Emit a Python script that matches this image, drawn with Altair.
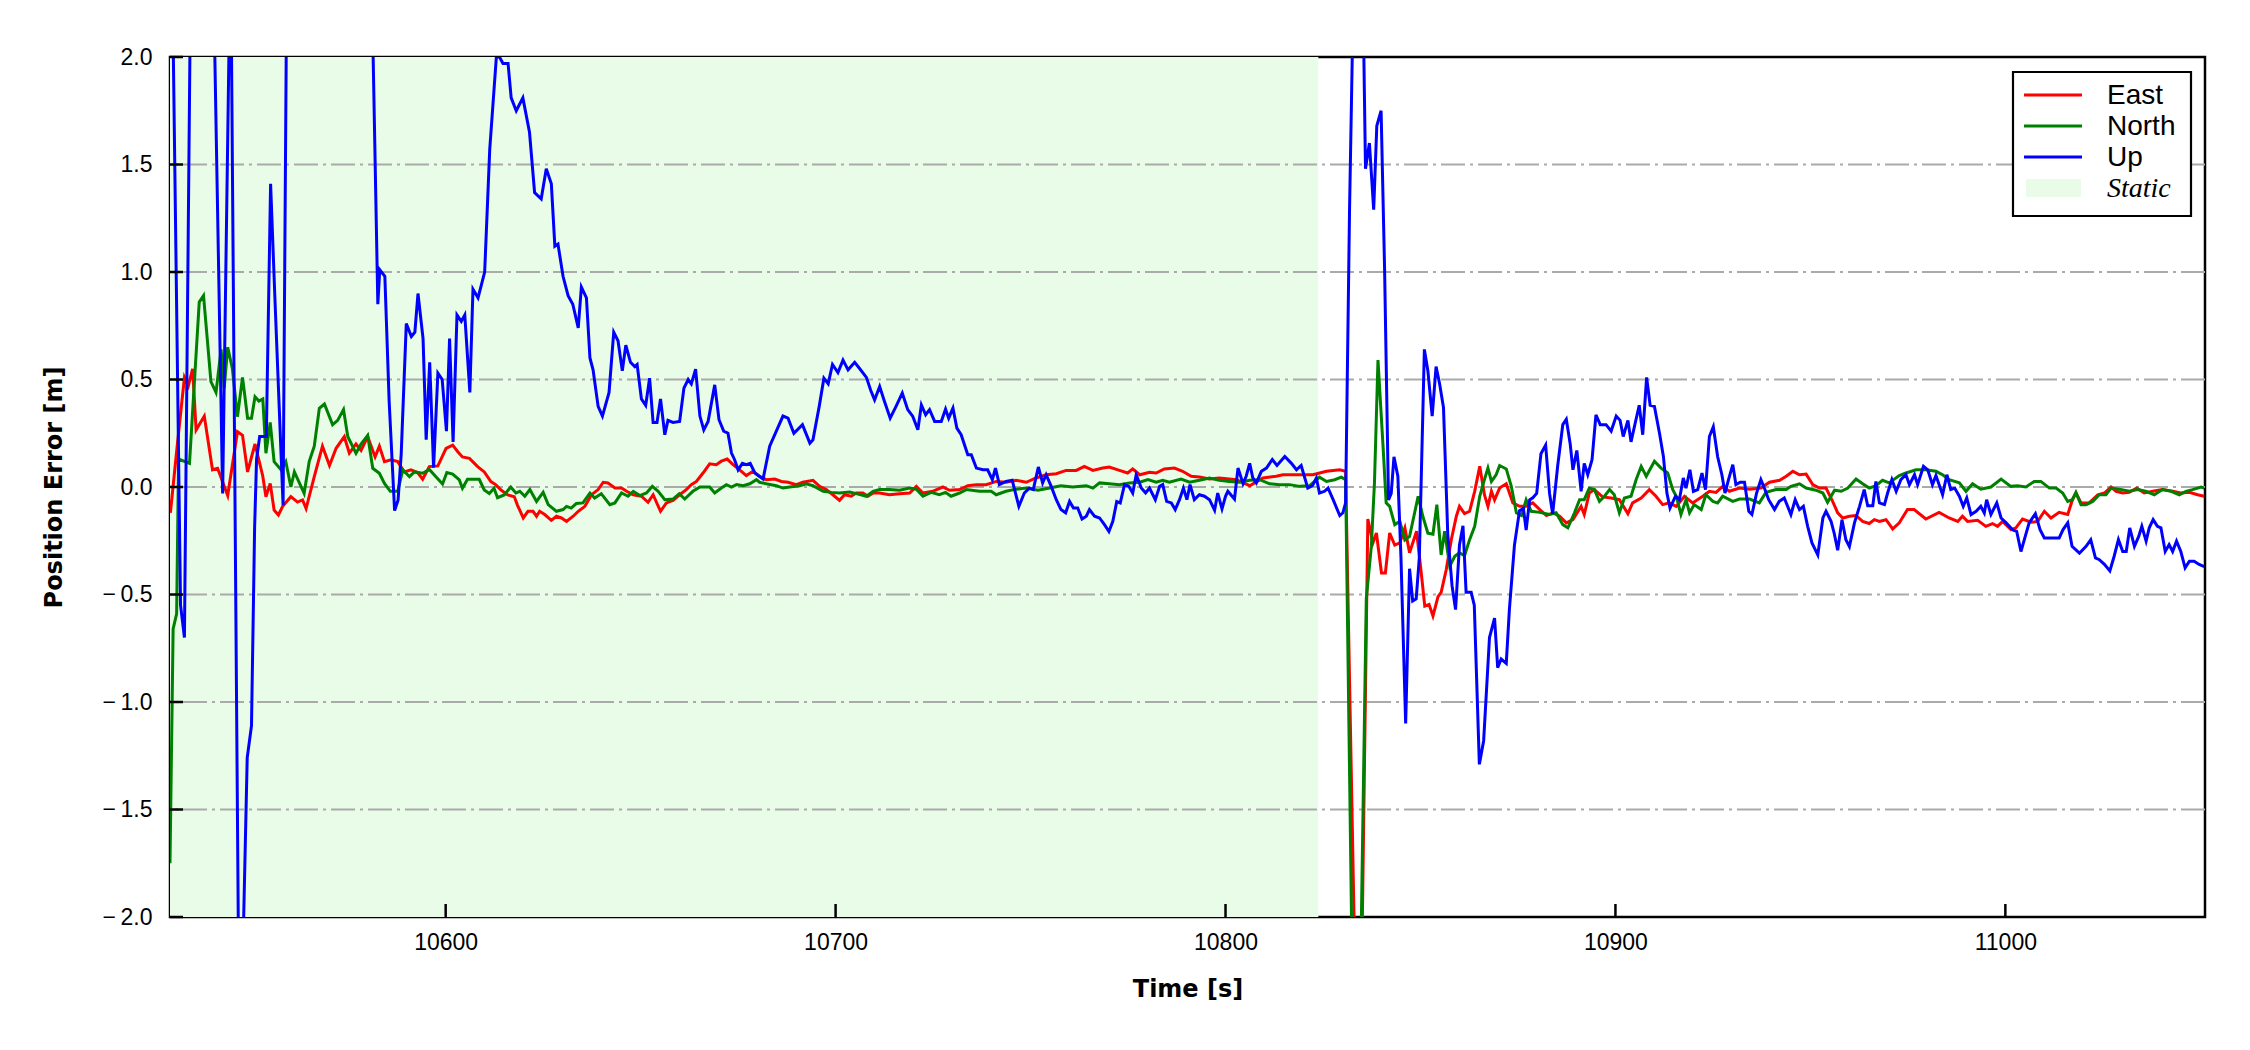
import altair as alt
import pandas as pd

# ---------------- data ----------------
series_names = ["East", "North", "Up"]
series_colors = ["#ff0000", "#008000", "#0000ff"]

east = [(10529.4,-0.12),(10531.2,0.2),(10533.0,0.51),(10534.0,0.47),(10535.1,0.55),(10536.0,0.265),(10538.1,0.33),(10540.2,0.08),(10541.5,0.087),(10544.1,-0.04),(10546.6,0.257),(10547.9,0.24),(10549.2,0.07),(10551.1,0.20),(10553.1,0.05),(10553.9,-0.045),(10555.0,0.017),(10556.0,-0.107),(10557.1,-0.13),(10558.2,-0.09),(10560.3,-0.045),(10562.0,-0.07),(10563.3,-0.06),(10564.2,-0.10),(10566.3,0.048),(10568.4,0.19),(10570.2,0.10),(10571.9,0.18),(10574.0,0.234),(10575.3,0.157),(10577.0,0.20),(10578.3,0.17),(10580.0,0.234),(10581.9,0.14),(10583.0,0.19),(10584.3,0.118),(10586.0,0.126),(10587.7,0.118),(10589.4,0.07),(10591.1,0.08),(10592.8,0.067),(10594.1,0.036),(10595.8,0.095),(10598.0,0.098),(10600.1,0.18),(10601.8,0.195),(10603.1,0.164),(10604.3,0.14),(10606.1,0.133),(10608.2,0.095),(10609.9,0.07),(10611.6,0.025),(10612.9,0.01),(10614.2,-0.014),(10615.9,-0.037),(10617.6,-0.045),(10618.4,-0.084),(10619.9,-0.144),(10621.1,-0.113),(10622.4,-0.113),(10623.3,-0.136),(10624.1,-0.113),(10625.4,-0.128),(10627.1,-0.155),(10628.4,-0.136),(10629.7,-0.144),(10631.0,-0.16),(10632.7,-0.136),(10634.0,-0.113),(10635.7,-0.09),(10637.4,-0.036),(10639.1,-0.012),(10640.4,0.022),(10641.6,0.019),(10643.4,-0.005),(10645.1,-0.005),(10646.4,-0.02),(10648.1,-0.036),(10650.2,-0.043),(10651.9,-0.071),(10653.2,-0.036),(10655.1,-0.113),(10656.6,-0.074),(10658.3,-0.062),(10660.0,-0.036),(10661.7,-0.012),(10663.0,0.011),(10664.3,0.026),(10666.0,0.065),(10667.7,0.108),(10669.4,0.104),(10670.7,0.12),(10672.2,0.13),(10673.7,0.104),(10675.4,0.08),(10677.1,0.053),(10678.8,0.073),(10680.5,0.05),(10682.2,0.034),(10684.4,0.037),(10686.1,0.026),(10687.8,0.022),(10689.9,0.011),(10691.6,0.022),(10694.2,0.031),(10695.9,0.003),(10697.6,-0.012),(10699.3,-0.036),(10701.0,-0.062),(10702.3,-0.036),(10704.0,-0.043),(10705.3,-0.028),(10707.0,-0.028),(10708.3,-0.043),(10709.6,-0.028),(10711.3,-0.028),(10713.8,-0.036),(10716.4,-0.031),(10719.0,-0.028),(10720.7,0.003),(10722.4,-0.028),(10724.9,-0.02),(10727.5,0.0),(10729.2,-0.015),(10731.8,-0.012),(10733.9,0.006),(10736.1,0.011),(10738.6,0.011),(10741.2,0.026),(10743.7,0.022),(10746.3,0.031),(10748.9,0.022),(10751.4,0.042),(10754.0,0.057),(10756.6,0.062),(10759.1,0.077),(10761.7,0.077),(10763.8,0.096),(10766.0,0.077),(10768.5,0.088),(10770.2,0.093),(10772.8,0.077),(10774.9,0.065),(10776.2,0.084),(10778.0,0.057),(10780.5,0.068),(10782.2,0.065),(10784.3,0.084),(10786.9,0.088),(10789.0,0.073),(10791.2,0.05),(10793.3,0.046),(10795.9,0.037),(10798.4,0.042),(10802.8,0.034),(10806.2,0.006),(10809.6,0.042),(10813.0,0.05),(10814.7,0.057),(10819.0,0.057),(10822.4,0.057),(10825.9,0.073),(10829.3,0.08),(10830.8,0.073),(10834.2,-3.2),(10836.5,-0.149),(10837.8,-0.26),(10838.7,-0.214),(10840.0,-0.40),(10841.0,-0.40),(10842.1,-0.214),(10843.4,-0.27),(10844.7,-0.26),(10846.0,-0.19),(10847.2,-0.306),(10849.0,-0.206),(10850.2,-0.40),(10851.1,-0.554),(10852.2,-0.546),(10853.2,-0.60),(10854.5,-0.51),(10855.3,-0.49),(10856.6,-0.385),(10857.9,-0.245),(10859.2,-0.136),(10860.0,-0.09),(10861.3,-0.124),(10862.6,-0.113),(10863.9,-0.02),(10865.2,0.096),(10866.4,-0.036),(10867.3,-0.09),(10868.2,-0.02),(10869.0,-0.06),(10870.3,-0.005),(10872.0,0.015),(10873.7,-0.074),(10875.4,-0.09),(10877.1,-0.09),(10878.8,-0.074),(10880.6,-0.105),(10882.3,-0.133),(10884.0,-0.12),(10885.7,-0.136),(10887.4,-0.167),(10889.1,-0.152),(10891.2,-0.09),(10892.0,-0.128),(10893.3,-0.028),(10894.6,-0.012),(10896.7,-0.046),(10898.9,-0.051),(10901.0,-0.059),(10903.2,-0.124),(10904.4,-0.074),(10906.6,-0.051),(10908.7,-0.012),(10910.4,-0.043),(10912.1,-0.082),(10913.8,-0.074),(10915.6,-0.09),(10917.7,-0.043),(10919.8,-0.074),(10922.4,-0.043),(10924.1,-0.02),(10925.8,-0.025),(10927.5,0.003),(10929.2,-0.02),(10931.8,-0.005),(10934.4,-0.01),(10937.3,-0.005),(10939.5,0.022),(10942.1,0.031),(10943.8,0.05),(10945.5,0.073),(10947.2,0.057),(10948.9,0.06),(10950.6,0.011),(10952.3,-0.005),(10954.0,-0.005),(10955.7,-0.067),(10957.0,-0.12),(10958.3,-0.144),(10960.0,-0.136),(10961.7,-0.133),(10963.4,-0.16),(10965.1,-0.17),(10966.4,-0.152),(10967.7,-0.16),(10969.4,-0.152),(10971.1,-0.195),(10972.8,-0.167),(10974.9,-0.105),(10976.6,-0.105),(10979.6,-0.149),(10983.0,-0.118),(10985.6,-0.144),(10987.8,-0.16),(10989.0,-0.136),(10990.3,-0.16),(10992.9,-0.155),(10995.0,-0.183),(10996.7,-0.17),(10998.0,-0.183),(10999.3,-0.16),(11001.4,-0.198),(11002.7,-0.19),(11004.4,-0.149),(11006.6,-0.164),(11008.3,-0.16),(11010.0,-0.113),(11011.7,-0.144),(11013.8,-0.118),(11016.0,-0.128),(11017.2,-0.059),(11018.1,-0.028),(11019.4,-0.074),(11021.5,-0.074),(11023.7,-0.036),(11025.4,-0.028),(11027.1,0.0),(11028.4,-0.02),(11030.1,-0.028),(11031.8,-0.025),(11033.7,-0.005),(11035.6,-0.028),(11037.8,-0.02),(11040.3,-0.012),(11042.9,-0.02),(11045.0,-0.028),(11047.2,-0.025),(11049.3,-0.036),(11051.0,-0.043)]

north = [(10529.3,-1.75),(10530.1,-0.66),(10531.0,-0.59),(10531.5,0.13),(10534.3,0.11),(10536.8,0.86),(10537.9,0.89),(10539.8,0.49),(10541.1,0.44),(10542.4,0.64),(10543.2,0.46),(10544.1,0.65),(10545.3,0.55),(10546.6,0.327),(10547.9,0.51),(10549.2,0.32),(10550.2,0.32),(10551.1,0.42),(10552.1,0.40),(10553.1,0.41),(10553.9,0.157),(10555.0,0.30),(10556.0,0.118),(10557.8,0.08),(10559.0,0.118),(10560.3,0.0),(10561.2,0.07),(10563.7,-0.03),(10565.0,0.118),(10566.3,0.19),(10567.6,0.366),(10568.9,0.386),(10571.0,0.29),(10572.3,0.31),(10573.8,0.36),(10574.9,0.234),(10577.0,0.157),(10578.3,0.2),(10580.0,0.24),(10581.3,0.087),(10583.0,0.064),(10584.3,0.017),(10585.8,-0.02),(10587.7,-0.02),(10589.0,0.08),(10590.7,0.048),(10592.0,0.07),(10594.1,0.064),(10595.8,0.082),(10597.5,0.048),(10599.2,0.014),(10600.3,0.067),(10601.8,0.06),(10603.5,0.033),(10604.3,-0.006),(10605.6,0.036),(10608.6,0.036),(10609.9,-0.014),(10611.2,-0.03),(10612.4,-0.006),(10613.3,-0.05),(10615.0,-0.037),(10616.7,0.0),(10618.0,-0.028),(10619.0,-0.02),(10620.3,-0.043),(10621.6,-0.012),(10623.3,-0.067),(10625.0,-0.025),(10626.3,-0.082),(10628.4,-0.113),(10630.1,-0.105),(10631.0,-0.09),(10632.2,-0.098),(10633.5,-0.077),(10635.2,-0.074),(10637.0,-0.028),(10638.2,-0.051),(10639.9,-0.031),(10642.1,-0.082),(10643.4,-0.074),(10645.1,-0.028),(10646.8,-0.043),(10648.1,-0.02),(10649.8,-0.04),(10651.5,-0.028),(10653.0,0.003),(10654.5,-0.02),(10656.2,-0.059),(10658.3,-0.056),(10659.9,-0.031),(10661.3,-0.056),(10663.4,-0.02),(10665.2,0.0),(10667.7,0.0),(10669.0,-0.028),(10670.7,-0.005),(10672.0,0.011),(10673.3,0.0),(10674.6,0.011),(10676.3,0.006),(10678.0,0.015),(10679.7,0.034),(10680.5,0.022),(10682.2,0.015),(10684.8,0.006),(10686.5,-0.005),(10688.2,0.0),(10690.8,0.006),(10692.5,0.015),(10694.2,0.006),(10696.8,-0.02),(10698.9,-0.025),(10701.0,-0.028),(10703.6,-0.023),(10705.3,-0.031),(10707.9,-0.043),(10709.6,-0.02),(10711.3,-0.012),(10713.8,-0.012),(10716.4,-0.015),(10719.0,-0.005),(10720.7,-0.01),(10722.4,-0.043),(10724.5,-0.025),(10726.6,-0.036),(10728.2,-0.025),(10729.6,-0.043),(10731.8,-0.028),(10733.5,-0.012),(10736.9,-0.02),(10739.9,-0.02),(10741.2,-0.036),(10743.7,-0.02),(10746.3,-0.01),(10748.9,-0.005),(10751.9,-0.015),(10754.9,-0.005),(10757.8,0.006),(10760.8,0.0),(10764.3,0.006),(10766.0,-0.005),(10767.7,0.019),(10770.2,0.015),(10772.8,0.011),(10775.4,0.019),(10778.0,0.022),(10780.1,0.034),(10782.2,0.022),(10783.9,0.031),(10785.6,0.022),(10788.6,0.037),(10790.8,0.022),(10793.3,0.031),(10795.9,0.042),(10798.4,0.031),(10801.0,0.026),(10803.6,0.022),(10806.2,0.031),(10808.8,0.034),(10811.3,0.015),(10813.9,0.011),(10816.4,0.011),(10819.0,0.003),(10821.6,0.006),(10824.1,0.046),(10825.9,0.026),(10828.0,0.034),(10829.7,0.046),(10830.8,0.034),(10833.5,-3.6),(10836.1,-0.52),(10837.4,-0.275),(10838.2,0.02),(10839.1,0.59),(10840.4,0.19),(10841.2,-0.074),(10842.1,-0.09),(10843.4,-0.175),(10844.7,-0.16),(10846.0,-0.246),(10847.2,-0.23),(10848.5,-0.12),(10849.4,-0.043),(10850.6,-0.136),(10851.9,-0.215),(10853.2,-0.22),(10854.2,-0.082),(10855.3,-0.316),(10856.2,-0.206),(10857.5,-0.368),(10858.8,-0.322),(10860.0,-0.306),(10861.3,-0.32),(10862.6,-0.245),(10863.9,-0.183),(10865.2,-0.043),(10866.4,0.034),(10867.3,0.088),(10868.2,0.026),(10869.4,0.057),(10870.3,0.1),(10872.0,0.084),(10873.3,0.003),(10874.6,-0.12),(10875.9,-0.133),(10877.1,-0.06),(10878.4,-0.113),(10880.6,-0.118),(10883.1,-0.128),(10884.8,-0.12),(10886.5,-0.175),(10887.8,-0.19),(10889.5,-0.12),(10890.8,-0.059),(10892.0,-0.059),(10893.3,-0.005),(10894.6,-0.012),(10895.9,-0.067),(10897.2,-0.043),(10898.5,-0.012),(10899.7,-0.036),(10901.0,-0.12),(10902.3,-0.051),(10904.0,-0.043),(10905.3,0.034),(10906.6,0.096),(10907.9,0.05),(10910.0,0.12),(10911.7,0.088),(10913.4,0.065),(10914.7,-0.012),(10915.6,-0.043),(10916.8,-0.128),(10918.1,-0.059),(10919.0,-0.12),(10920.2,-0.082),(10922.0,-0.105),(10923.2,-0.036),(10925.0,-0.067),(10926.2,-0.074),(10927.5,-0.043),(10930.1,-0.067),(10931.8,-0.056),(10934.4,-0.056),(10936.9,-0.074),(10938.6,-0.025),(10941.2,-0.012),(10943.8,-0.012),(10945.0,0.003),(10947.2,0.015),(10948.9,-0.005),(10951.4,-0.015),(10953.2,-0.028),(10954.4,-0.071),(10956.2,-0.015),(10957.9,-0.02),(10959.6,-0.005),(10961.7,0.037),(10963.4,0.015),(10965.1,-0.005),(10966.8,0.006),(10968.5,0.031),(10970.2,0.019),(10972.8,0.053),(10974.5,0.065),(10977.1,0.08),(10979.6,0.08),(10982.2,0.073),(10983.9,0.057),(10985.6,0.034),(10988.2,0.019),(10989.9,-0.02),(10991.6,0.015),(10993.7,-0.01),(10996.3,0.0),(10998.9,0.037),(11001.4,0.003),(11003.1,0.006),(11005.3,0.0),(11007.4,0.026),(11009.1,0.026),(11011.3,-0.005),(11013.0,-0.005),(11014.7,-0.028),(11016.0,-0.067),(11017.2,-0.059),(11018.1,-0.025),(11019.4,-0.082),(11020.7,-0.082),(11022.4,-0.067),(11024.1,-0.036),(11025.8,-0.036),(11027.1,-0.005),(11029.2,-0.01),(11031.8,-0.02),(11033.9,-0.012),(11036.0,-0.02),(11038.2,-0.036),(11040.3,-0.012),(11042.5,-0.02),(11044.6,-0.036),(11046.3,-0.02),(11048.0,-0.012),(11050.2,0.0),(11051.0,-0.005)]

up = [(10529.3,3.2),(10532.0,-0.55),(10533.0,-0.70),(10534.4,2.0),(10537.5,3.6),(10540.8,2.0),(10542.8,-0.03),(10544.4,2.0),(10545.0,2.2),(10546.8,-2.0),(10547.5,-2.6),(10548.2,-2.0),(10549.1,-1.26),(10550.2,-1.11),(10551.0,-0.19),(10551.5,0.13),(10552.3,0.235),(10554.0,0.235),(10555.1,1.41),(10556.2,0.88),(10558.3,-0.085),(10559.1,2.0),(10565.0,3.8),(10575.0,3.5),(10581.4,2.0),(10582.6,0.85),(10583.1,1.01),(10584.4,0.98),(10585.5,0.4),(10586.9,-0.11),(10587.8,-0.06),(10588.6,0.155),(10589.9,0.76),(10591.2,0.70),(10592.1,0.72),(10592.9,0.9),(10594.2,0.69),(10595.0,0.22),(10595.9,0.58),(10596.9,0.09),(10598.0,0.53),(10599.1,0.5),(10600.2,0.26),(10601.0,0.69),(10601.9,0.21),(10602.9,0.8),(10604.0,0.77),(10604.9,0.8),(10606.2,0.44),(10607.0,0.92),(10608.3,0.88),(10610.0,1.0),(10611.3,1.57),(10613.0,2.0),(10613.8,2.0),(10614.7,1.97),(10616.0,1.97),(10616.8,1.81),(10618.1,1.75),(10619.8,1.81),(10621.5,1.65),(10622.8,1.37),(10624.5,1.34),(10625.8,1.48),(10627.1,1.41),(10628.0,1.12),(10628.8,1.13),(10630.1,0.98),(10631.4,0.89),(10632.6,0.85),(10634.0,0.74),(10634.8,0.93),(10636.1,0.88),(10637.0,0.6),(10637.8,0.545),(10639.1,0.375),(10640.2,0.33),(10641.9,0.44),(10643.1,0.72),(10644.2,0.68),(10645.3,0.54),(10646.2,0.66),(10647.4,0.58),(10648.5,0.56),(10649.1,0.57),(10650.2,0.41),(10651.3,0.38),(10652.3,0.506),(10653.2,0.30),(10654.2,0.30),(10655.1,0.41),(10656.2,0.243),(10657.0,0.31),(10658.3,0.30),(10660.0,0.305),(10661.1,0.46),(10662.2,0.50),(10663.0,0.48),(10664.1,0.548),(10665.2,0.33),(10666.2,0.266),(10667.3,0.305),(10669.0,0.475),(10670.1,0.313),(10671.3,0.26),(10672.4,0.25),(10673.3,0.158),(10674.1,0.127),(10675.0,0.08),(10676.1,0.11),(10677.1,0.104),(10678.1,0.11),(10679.3,0.065),(10680.4,0.05),(10681.4,0.037),(10683.1,0.19),(10684.8,0.26),(10686.5,0.33),(10687.8,0.32),(10689.3,0.25),(10691.5,0.29),(10693.4,0.204),(10694.2,0.22),(10695.8,0.375),(10697.0,0.506),(10698.1,0.48),(10699.2,0.57),(10700.6,0.532),(10701.9,0.59),(10703.2,0.545),(10704.9,0.58),(10706.2,0.55),(10707.9,0.51),(10709.0,0.45),(10710.0,0.405),(10711.3,0.467),(10712.5,0.40),(10714.0,0.32),(10715.5,0.375),(10717.1,0.437),(10718.5,0.36),(10719.8,0.328),(10721.1,0.266),(10722.0,0.382),(10723.1,0.336),(10724.1,0.36),(10725.4,0.305),(10727.1,0.305),(10728.2,0.362),(10729.0,0.32),(10730.1,0.367),(10731.1,0.274),(10732.2,0.243),(10733.9,0.15),(10734.8,0.15),(10736.1,0.088),(10737.8,0.08),(10739.0,0.08),(10740.2,0.034),(10741.0,0.088),(10742.0,0.011),(10743.7,0.026),(10745.3,0.031),(10747.0,-0.09),(10748.4,-0.028),(10749.7,-0.005),(10750.7,-0.012),(10752.0,0.093),(10753.1,0.019),(10754.0,0.057),(10755.3,0.003),(10756.6,-0.059),(10757.8,-0.105),(10759.0,-0.12),(10760.0,-0.067),(10761.0,-0.098),(10762.1,-0.098),(10763.2,-0.149),(10764.3,-0.136),(10765.1,-0.105),(10766.4,-0.136),(10767.7,-0.144),(10769.0,-0.176),(10770.1,-0.207),(10771.1,-0.16),(10772.1,-0.068),(10773.0,-0.074),(10774.1,0.011),(10775.2,0.003),(10776.2,-0.028),(10777.1,0.057),(10778.4,-0.005),(10779.5,-0.028),(10780.5,-0.005),(10782.0,-0.059),(10783.1,0.003),(10783.9,0.011),(10784.9,-0.067),(10786.1,-0.074),(10787.1,-0.105),(10788.2,-0.059),(10789.2,-0.005),(10790.1,-0.059),(10790.9,0.011),(10792.0,-0.059),(10793.3,-0.036),(10794.6,-0.043),(10795.9,-0.059),(10797.2,-0.108),(10798.0,-0.028),(10799.1,-0.102),(10800.0,-0.043),(10800.6,-0.02),(10802.3,-0.056),(10803.2,0.088),(10804.5,0.015),(10805.3,0.05),(10806.2,0.11),(10807.0,0.042),(10807.9,0.019),(10809.2,0.073),(10810.5,0.088),(10812.0,0.128),(10813.2,0.1),(10815.2,0.142),(10816.9,0.11),(10818.2,0.08),(10819.4,0.1),(10821.1,-0.005),(10822.3,0.006),(10823.3,0.042),(10824.1,-0.028),(10825.4,-0.02),(10826.3,-0.005),(10827.6,-0.059),(10829.3,-0.133),(10830.1,-0.12),(10830.8,-0.074),(10831.8,1.28),(10832.6,2.1),(10834.0,2.9),(10835.4,2.1),(10835.9,1.48),(10836.9,1.6),(10838.0,1.29),(10838.8,1.68),(10839.9,1.75),(10840.8,1.01),(10841.8,-0.06),(10842.5,-0.03),(10843.2,0.14),(10844.2,0.05),(10845.0,-0.33),(10846.2,-1.1),(10847.2,-0.38),(10848.0,-0.53),(10848.9,-0.52),(10849.7,-0.33),(10851.0,0.64),(10851.9,0.54),(10853.0,0.33),(10854.0,0.56),(10854.9,0.48),(10855.9,0.37),(10857.0,-0.22),(10858.1,-0.46),(10859.0,-0.57),(10860.0,-0.27),(10860.9,-0.18),(10861.7,-0.49),(10863.0,-0.49),(10863.8,-0.55),(10865.1,-1.29),(10866.2,-1.18),(10867.7,-0.70),(10869.0,-0.61),(10869.8,-0.84),(10870.7,-0.80),(10872.0,-0.82),(10872.8,-0.57),(10874.1,-0.27),(10875.4,-0.11),(10876.4,-0.10),(10877.1,-0.2),(10878.0,-0.06),(10878.8,-0.05),(10879.8,-0.03),(10880.9,0.155),(10882.1,0.195),(10883.1,-0.03),(10883.9,-0.125),(10885.2,0.1),(10886.5,0.29),(10887.4,0.315),(10888.4,0.2),(10889.1,0.08),(10890.1,0.17),(10891.2,-0.02),(10892.0,0.11),(10892.9,0.057),(10894.0,0.127),(10895.0,0.336),(10896.1,0.29),(10897.6,0.29),(10898.9,0.26),(10900.2,0.33),(10901.2,0.31),(10902.0,0.235),(10903.2,0.31),(10904.0,0.21),(10905.1,0.3),(10906.1,0.38),(10907.0,0.243),(10908.0,0.51),(10908.9,0.38),(10910.0,0.375),(10911.3,0.25),(10912.3,0.142),(10913.2,-0.028),(10914.0,-0.098),(10915.4,-0.043),(10916.4,-0.059),(10917.4,0.042),(10918.1,-0.005),(10919.1,0.08),(10920.0,-0.02),(10921.1,-0.012),(10922.2,0.065),(10923.1,-0.012),(10924.1,0.235),(10925.1,0.28),(10926.2,0.142),(10927.3,0.057),(10928.1,-0.028),(10929.0,0.034),(10930.1,0.104),(10930.9,0.011),(10932.0,0.022),(10933.1,0.022),(10934.2,-0.113),(10935.0,-0.128),(10936.2,-0.028),(10937.3,0.034),(10938.2,-0.005),(10939.3,-0.059),(10940.8,-0.105),(10942.0,-0.067),(10943.3,-0.051),(10945.0,-0.128),(10946.1,-0.059),(10947.2,-0.105),(10948.2,-0.09),(10949.3,-0.183),(10950.4,-0.26),(10951.9,-0.316),(10953.2,-0.144),(10954.0,-0.113),(10955.3,-0.16),(10956.1,-0.215),(10957.0,-0.294),(10958.1,-0.152),(10959.1,-0.245),(10960.0,-0.277),(10961.3,-0.167),(10962.6,-0.09),(10963.8,-0.012),(10964.7,-0.087),(10966.0,-0.087),(10966.8,0.026),(10967.7,-0.074),(10969.0,-0.082),(10969.8,-0.028),(10970.9,0.034),(10972.0,-0.02),(10973.2,0.034),(10974.5,0.057),(10975.4,0.011),(10976.7,0.057),(10977.5,0.011),(10979.0,0.096),(10980.1,0.08),(10981.3,0.011),(10982.2,0.053),(10983.9,-0.036),(10985.0,0.057),(10986.0,-0.012),(10987.0,-0.005),(10988.2,-0.043),(10989.2,-0.09),(10990.1,-0.051),(10991.2,-0.128),(10992.5,-0.113),(10993.7,-0.09),(10994.6,-0.121),(10995.2,-0.059),(10996.3,-0.128),(10997.8,-0.074),(10998.9,-0.144),(11000.2,-0.167),(11001.9,-0.2),(11002.9,-0.206),(11004.0,-0.3),(11005.1,-0.23),(11006.1,-0.167),(11007.7,-0.124),(11008.9,-0.198),(11010.0,-0.237),(11011.7,-0.237),(11013.8,-0.237),(11014.8,-0.198),(11016.0,-0.167),(11017.1,-0.276),(11019.0,-0.308),(11020.7,-0.276),(11021.9,-0.245),(11023.1,-0.33),(11024.1,-0.338),(11025.4,-0.36),(11026.8,-0.39),(11027.9,-0.322),(11029.0,-0.245),(11030.1,-0.3),(11031.0,-0.3),(11031.9,-0.19),(11033.1,-0.276),(11034.2,-0.23),(11035.0,-0.183),(11036.1,-0.252),(11036.9,-0.19),(11037.9,-0.152),(11039.0,-0.183),(11039.9,-0.19),(11041.0,-0.3),(11042.0,-0.268),(11042.9,-0.3),(11043.9,-0.252),(11045.0,-0.3),(11046.1,-0.376),(11047.2,-0.345),(11048.4,-0.345),(11049.7,-0.36),(11051.0,-0.37)]

static_span = [10529.3, 10823.8]
x_domain = [10529.3, 11051.2]
y_domain = [-2.0, 2.0]
x_ticks = [10600, 10700, 10800, 10900, 11000]
y_ticks = [-2.0, -1.5, -1.0, -0.5, 0.0, 0.5, 1.0, 1.5, 2.0]
grid_vals = [-1.5, -1.0, -0.5, 0.0, 0.5, 1.0, 1.5]
legend_labels = ["East", "North", "Up", "Static"]

# ---------------- tables ----------------
rows = []
for name, pts in zip(series_names, [east, north, up]):
    for i, (t, v) in enumerate(pts):
        rows.append({"t": t, "v": v, "series": name, "order": i})
lines_df = pd.DataFrame(rows)

W, H = 2035, 860
FONT = "Liberation Sans"
TITLE_FONT = "DejaVu Sans"
LW = 3.0

xscale = alt.Scale(domain=x_domain, nice=False, zero=False)
yscale = alt.Scale(domain=y_domain, nice=False, zero=False)
xaxis = alt.Axis(values=x_ticks, format="d", title="Time [s]", labelPadding=14,
                 titleY=72, titleBaseline="middle")
yaxis = alt.Axis(values=y_ticks, format=".1f", title="Position Error [m]", labelPadding=18,
                 labelExpr="replace(datum.label, '\u2212', '\u2212\u2009')",
                 titleX=-116, titleY=H / 2, titleAngle=270, titleBaseline="middle",
                 titleAlign="center")

X = alt.X("t:Q", scale=xscale, axis=xaxis)
Y = alt.Y("v:Q", scale=yscale, axis=yaxis)

static_layer = alt.Chart(pd.DataFrame({"t": [static_span[0]], "t2": [static_span[1]]})).mark_rect(
    color="#e8fce8"
).encode(x=X, x2="t2:Q", y=alt.value(0), y2=alt.value(H))

grid_layer = alt.Chart(pd.DataFrame({"v": grid_vals})).mark_rule(
    color="#aaaaaa", strokeWidth=2.2, strokeDash=[24, 5, 3, 5]
).encode(y=Y)

lines_layer = alt.Chart(lines_df).mark_line(strokeWidth=LW, clip=True).encode(
    x=X, y=Y,
    color=alt.Color("series:N", scale=alt.Scale(domain=series_names, range=series_colors), legend=None),
    order="order:Q",
)

xtick_layer = alt.Chart(pd.DataFrame({"t": x_ticks})).mark_rule(color="black", strokeWidth=2.5).encode(
    x=X, y=alt.value(H), y2=alt.value(H - 13)
)
ytick_layer = alt.Chart(pd.DataFrame({"v": y_ticks})).mark_rule(color="black", strokeWidth=2.5).encode(
    y=Y, x=alt.value(0), x2=alt.value(13)
)

# ---------------- legend (drawn by hand) ----------------
LX0, LX1, LY0, LY1 = 1843, 2021, 15, 159
one = pd.DataFrame({"a": [0]})
legend_layers = [
    alt.Chart(one).mark_rect(fill="white", stroke="black", strokeWidth=2.2).encode(
        x=alt.value(LX0), x2=alt.value(LX1), y=alt.value(LY0), y2=alt.value(LY1))
]
row_y = [38, 69, 100, 131]
for lab, col, ry in zip(series_names, series_colors, row_y[:3]):
    legend_layers.append(alt.Chart(one).mark_rule(color=col, strokeWidth=LW).encode(
        x=alt.value(1854), x2=alt.value(1912), y=alt.value(ry)))
legend_layers.append(alt.Chart(one).mark_rect(fill="#e8fce8").encode(
    x=alt.value(1856), x2=alt.value(1911), y=alt.value(row_y[3] - 9), y2=alt.value(row_y[3] + 9)))
for lab, ry in zip(legend_labels, row_y):
    is_static = lab == "Static"
    legend_layers.append(alt.Chart(one).mark_text(
        text=lab, align="left", baseline="middle",
        font="Liberation Serif" if is_static else FONT,
        fontStyle="italic" if is_static else "normal",
        fontSize=28, color="black").encode(x=alt.value(1937), y=alt.value(ry + 1)))

chart = alt.layer(
    static_layer, grid_layer, lines_layer, xtick_layer, ytick_layer, *legend_layers
).properties(
    width=W, height=H,
    padding={"left": 162, "top": 49, "right": 37, "bottom": 125},
    autosize=alt.AutoSizeParams(type="none"),
).configure_view(
    stroke="black", strokeWidth=2.5
).configure_axis(
    domain=False, ticks=False, tickSize=0, grid=False,
    labelFont=FONT, labelFontSize=23, labelColor="black",
    titleFont=TITLE_FONT, titleFontSize=24, titleFontWeight="bold", titleColor="black",
)

chart.save("out.html", embed_options={"renderer": "svg", "actions": False})
